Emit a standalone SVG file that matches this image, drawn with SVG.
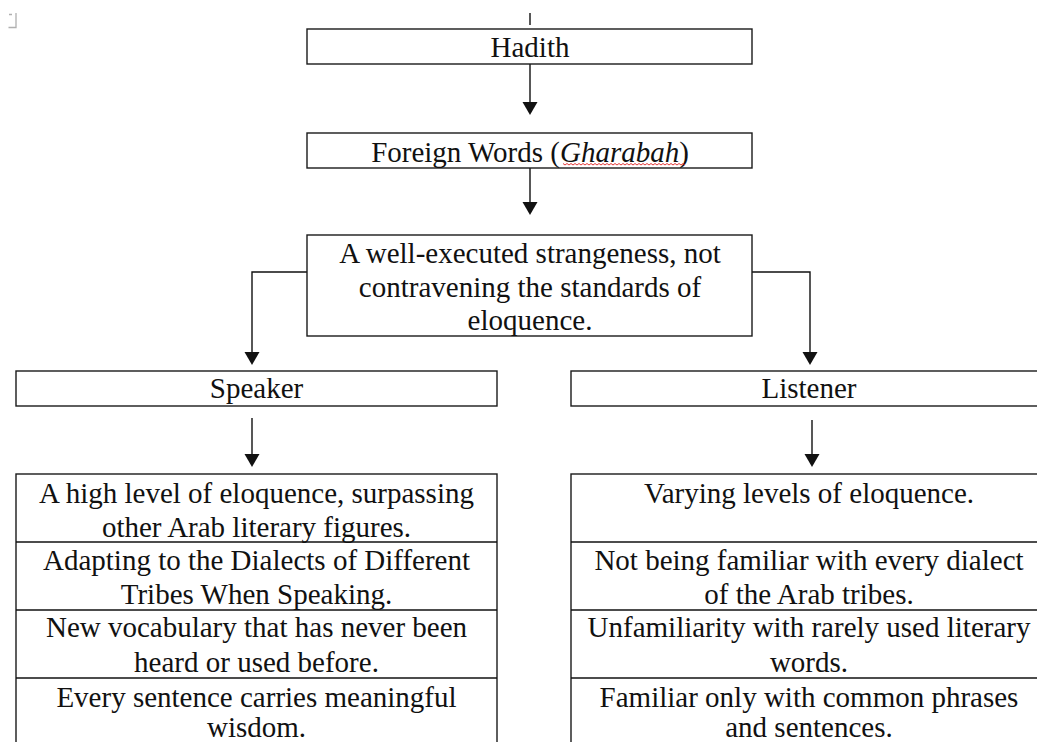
<svg xmlns="http://www.w3.org/2000/svg" width="1037" height="742" viewBox="0 0 1037 742" font-family="'Liberation Serif', 'Times New Roman', Tinos, serif">
<style>
.box{fill:#fff;stroke:#1a1a1a;stroke-width:1.4}
text{font-family:'Liberation Serif','Times New Roman',Tinos,serif;font-size:29px;fill:#111;text-anchor:middle}
.c{fill:none;stroke:#111;stroke-width:1.4}
.ah{fill:#111}
</style>
<rect width="1037" height="742" fill="#fff"/>
<path d="M9,14.5 H12 M16,13 V27.5 H8.5" fill="none" stroke="#b0b0b0" stroke-width="1.3"/>
<g id="connectors">
<line class="c" x1="530" y1="13" x2="530" y2="25"/>
<path d="M530,64 V103" class="c"/>
<path class="ah" d="M522.5,102 L537.5,102 L530,115 Z"/>
<path d="M530,168 V203" class="c"/>
<path class="ah" d="M522.5,202 L537.5,202 L530,215 Z"/>
<path d="M307,272 H252 V353" class="c"/>
<path class="ah" d="M244.5,352 L259.5,352 L252,365 Z"/>
<path d="M752,272 H810 V353" class="c"/>
<path class="ah" d="M802.5,352 L817.5,352 L810,365 Z"/>
<path d="M252,418 V455" class="c"/>
<path class="ah" d="M244.5,454 L259.5,454 L252,467 Z"/>
<path d="M812,420 V455" class="c"/>
<path class="ah" d="M804.5,454 L819.5,454 L812,467 Z"/>
</g>
<g id="hadith">
<rect class="box" x="307" y="29" width="445" height="35"/>
<text x="530" y="57">Hadith</text>
</g>
<g id="foreign">
<rect class="box" x="307" y="133" width="445" height="35"/>
<text x="530" y="161.5">Foreign Words (<tspan font-style="italic">Gharabah</tspan>)</text>
<path d="M563,163.5 l2,1.5 l2,-1.5 l2,1.5 l2,-1.5 l2,1.5 l2,-1.5 l2,1.5 l2,-1.5 l2,1.5 l2,-1.5 l2,1.5 l2,-1.5 l2,1.5 l2,-1.5 l2,1.5 l2,-1.5 l2,1.5 l2,-1.5 l2,1.5 l2,-1.5 l2,1.5 l2,-1.5 l2,1.5 l2,-1.5 l2,1.5 l2,-1.5 l2,1.5 l2,-1.5 l2,1.5 l2,-1.5 l2,1.5 l2,-1.5 l2,1.5 l2,-1.5 l2,1.5 l2,-1.5 l2,1.5 l2,-1.5 l2,1.5 l2,-1.5 l2,1.5 l2,-1.5 l2,1.5 l2,-1.5 l2,1.5 l2,-1.5 l2,1.5 l2,-1.5 l2,1.5 l2,-1.5 l2,1.5 l2,-1.5 l2,1.5 l2,-1.5 l2,1.5 l2,-1.5 l2,1.5 l2,-1.5 l2,1.5 l2,-1.5 l2,1.5" fill="none" stroke="#e02020" stroke-width="0.9"/>
</g>
<g id="strangeness">
<rect class="box" x="307" y="235" width="445" height="101"/>
<text x="530" y="263">A well-executed strangeness, not</text>
<text x="530" y="297">contravening the standards of</text>
<text x="530" y="330">eloquence.</text>
</g>
<g id="speaker">
<rect class="box" x="16" y="371" width="481" height="35"/>
<text x="256.5" y="398">Speaker</text>
</g>
<g id="listener">
<rect class="box" x="571" y="371" width="480" height="35"/>
<text x="809" y="398">Listener</text>
</g>
<g id="speaker-table">
<rect class="box" x="16" y="474" width="481" height="280"/>
<line class="c" x1="16" y1="542" x2="497" y2="542"/>
<line class="c" x1="16" y1="610" x2="497" y2="610"/>
<line class="c" x1="16" y1="678" x2="497" y2="678"/>
<text x="256.5" y="503">A high level of eloquence, surpassing</text>
<text x="256.5" y="537">other Arab literary figures.</text>
<text x="256.5" y="570">Adapting to the Dialects of Different</text>
<text x="256.5" y="604">Tribes When Speaking.</text>
<text x="256.5" y="637">New vocabulary that has never been</text>
<text x="256.5" y="672">heard or used before.</text>
<text x="256.5" y="707">Every sentence carries meaningful</text>
<text x="256.5" y="737">wisdom.</text>
</g>
<g id="listener-table">
<rect class="box" x="571" y="474" width="480" height="280"/>
<line class="c" x1="571" y1="542" x2="1051" y2="542"/>
<line class="c" x1="571" y1="610" x2="1051" y2="610"/>
<line class="c" x1="571" y1="678" x2="1051" y2="678"/>
<text x="809" y="503">Varying levels of eloquence.</text>
<text x="809" y="570">Not being familiar with every dialect</text>
<text x="809" y="604">of the Arab tribes.</text>
<text x="809" y="637">Unfamiliarity with rarely used literary</text>
<text x="809" y="672">words.</text>
<text x="809" y="707">Familiar only with common phrases</text>
<text x="809" y="737">and sentences.</text>
</g>
</svg>
